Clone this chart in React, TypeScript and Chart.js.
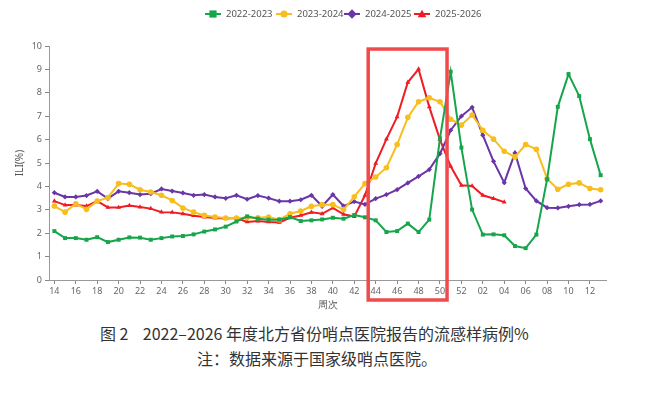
import React, { useEffect, useRef } from "react";
import { Chart, registerables } from "chart.js";

Chart.register(...registerables);

const weeks = [
  "14", "15", "16", "17", "18", "19", "20", "21", "22", "23", "24", "25", "26", "27", "28", "29", "30",
  "31", "32", "33", "34", "35", "36", "37", "38", "39", "40", "41", "42", "43", "44", "45", "46", "47",
  "48", "49", "50", "51", "52", "01", "02", "03", "04", "05", "06", "07", "08", "09", "10", "11", "12", "13",
];

const season2022 = [
  2.09, 1.79, 1.79, 1.72, 1.83, 1.62, 1.72, 1.82, 1.81, 1.72, 1.79, 1.86, 1.88, 1.95, 2.07, 2.16, 2.28,
  2.5, 2.72, 2.62, 2.58, 2.58, 2.69, 2.52, 2.55, 2.59, 2.66, 2.62, 2.78, 2.68, 2.55, 2.05, 2.09, 2.41,
  2.05, 2.58, 6.05, 8.9, 5.66, 3.01, 1.94, 1.95, 1.91, 1.45, 1.36, 1.94, 4.3, 7.4, 8.8, 7.86, 6.02, 4.48,
];

const season2023 = [
  3.16, 2.9, 3.26, 3.02, 3.37, 3.52, 4.12, 4.09, 3.86, 3.76, 3.62, 3.4, 3.08, 2.9, 2.76, 2.69, 2.65,
  2.65, 2.66, 2.66, 2.69, 2.58, 2.83, 2.95, 3.15, 3.22, 3.22, 3.01, 3.56, 4.12, 4.4, 4.8, 5.79, 6.95,
  7.62, 7.79, 7.62, 6.87, 6.62, 7.05, 6.4, 6.02, 5.5, 5.26, 5.79, 5.59, 4.33, 3.88, 4.09, 4.15, 3.91, 3.86,
];

const season2024 = [
  3.73, 3.55, 3.55, 3.61, 3.79, 3.48, 3.79, 3.73, 3.65, 3.69, 3.89, 3.8, 3.72, 3.62, 3.65, 3.55, 3.49,
  3.62, 3.45, 3.61, 3.5, 3.37, 3.37, 3.43, 3.62, 3.15, 3.65, 3.16, 3.35, 3.23, 3.48, 3.65, 3.86, 4.15,
  4.43, 4.72, 5.4, 6.4, 7.0, 7.38, 6.19, 5.07, 4.16, 5.43, 3.91, 3.38, 3.09, 3.08, 3.15, 3.22, 3.23, 3.38,
];

const season2025 = [
  3.37, 3.2, 3.2, 3.16, 3.37, 3.1, 3.1, 3.18, 3.12, 3.05, 2.9, 2.89, 2.83, 2.75, 2.69, 2.65, 2.63,
  2.65, 2.48, 2.52, 2.48, 2.46, 2.66, 2.76, 2.89, 2.83, 3.08, 2.81, 2.71, 3.62, 4.98, 6.02, 6.97, 8.45,
  9.01, 7.4, 6.0, 4.86, 4.05, 4.02, 3.62, 3.48, 3.33, null, null, null, null, null, null, null, null, null,
];

const seriesNames = ["2022-2023", "2023-2024", "2024-2025", "2025-2026"];
const seriesColors = ["#16a54b", "#f7be1e", "#6a35a6", "#ee1d24"];
const seriesPoints = ["rect", "circle", "rectRot", "triangle"];
const seriesRadius = [2.8, 2.8, 2.6, 2.8];

const yTicks = [0, 1, 2, 3, 4, 5, 6, 7, 8, 9, 10];
const highlightFrom = "44";
const highlightTo = "50";

const FONT = "'Noto Sans', 'Open Sans', sans-serif";

function drawMarker(ctx: CanvasRenderingContext2D, style: string, x: number, y: number, r: number) {
  ctx.beginPath();
  if (style === "rect") {
    ctx.rect(x - r, y - r, 2 * r, 2 * r);
  } else if (style === "circle") {
    ctx.arc(x, y, r, 0, Math.PI * 2);
  } else if (style === "rectRot") {
    ctx.moveTo(x, y - r * 1.3);
    ctx.lineTo(x + r * 1.3, y);
    ctx.lineTo(x, y + r * 1.3);
    ctx.lineTo(x - r * 1.3, y);
    ctx.closePath();
  } else {
    ctx.moveTo(x, y - r * 1.2);
    ctx.lineTo(x + r * 1.2, y + r * 0.9);
    ctx.lineTo(x - r * 1.2, y + r * 0.9);
    ctx.closePath();
  }
  ctx.fill();
}

const overlayPlugin = {
  id: "overlay",
  afterDatasetsDraw(chart: any) {
    const ctx = chart.ctx as CanvasRenderingContext2D;
    const xs = chart.scales.x;
    const ys = chart.scales.y;
    const area = chart.chartArea;
    const step = xs.getPixelForValue(1) - xs.getPixelForValue(0);
    const i0 = weeks.indexOf(highlightFrom);
    const i1 = weeks.indexOf(highlightTo);
    const left = xs.getPixelForValue(i0) - step * 0.7;
    const right = xs.getPixelForValue(i1) + step * 0.66;
    const top = ys.getPixelForValue(9.87);
    const bottom = area.bottom + 20;
    ctx.save();
    ctx.strokeStyle = "#f04a4c";
    ctx.lineWidth = 3.5;
    ctx.strokeRect(left, top, right - left, bottom - top);
    ctx.restore();
  },
  afterDraw(chart: any) {
    const ctx = chart.ctx as CanvasRenderingContext2D;
    const area = chart.chartArea;
    ctx.save();
    const legendX = [213, 284, 352, 422];
    const ly = 14;
    ctx.font = `9.5px ${FONT}`;
    ctx.textBaseline = "middle";
    ctx.textAlign = "left";
    seriesNames.forEach((name, i) => {
      const mx = legendX[i];
      ctx.strokeStyle = seriesColors[i];
      ctx.fillStyle = seriesColors[i];
      ctx.lineWidth = 2;
      ctx.beginPath();
      ctx.moveTo(mx - 8, ly);
      ctx.lineTo(mx + 8, ly);
      ctx.stroke();
      drawMarker(ctx, seriesPoints[i], mx, ly, 3.6);
      ctx.fillStyle = "#555";
      ctx.fillText(name, mx + 13, ly + 0.5);
    });
    ctx.fillStyle = "#555";
    ctx.font = `10px ${FONT}`;
    ctx.textAlign = "center";
    ctx.fillText("周次", (area.left + area.right) / 2, 305);
    ctx.translate(20, (area.top + area.bottom) / 2);
    ctx.rotate(-Math.PI / 2);
    ctx.fillText("ILI(%)", 0, 0);
    ctx.restore();
  },
};

export default function App() {
  const canvasRef = useRef<HTMLCanvasElement | null>(null);

  useEffect(() => {
    if (!canvasRef.current) return;
    const datasets = [season2022, season2023, season2024, season2025].map((data, i) => ({
      label: seriesNames[i],
      data,
      borderColor: seriesColors[i],
      backgroundColor: seriesColors[i],
      pointBackgroundColor: seriesColors[i],
      pointBorderColor: seriesColors[i],
      pointStyle: seriesPoints[i] as any,
      pointRadius: seriesRadius[i],
      pointBorderWidth: 0,
      borderWidth: 2,
      tension: 0,
      spanGaps: false,
      fill: false,
    }));
    const chart = new Chart(canvasRef.current, {
      type: "line",
      data: { labels: weeks, datasets },
      options: {
        animation: false,
        responsive: false,
        maintainAspectRatio: false,
        devicePixelRatio: 1,
        layout: { padding: { top: 46, left: 0, right: 41, bottom: 0 } },
        plugins: {
          legend: { display: false },
          tooltip: { enabled: false },
        },
        scales: {
          x: {
            type: "category",
            offset: true,
            afterFit: (scale: any) => {
              scale.height = 35;
            },
            afterBuildTicks: (scale: any) => {
              scale.ticks = scale.ticks.filter((t: any) => t.value % 2 === 0);
            },
            grid: {
              display: true,
              drawOnChartArea: false,
              drawTicks: true,
              tickLength: 4,
              tickColor: "#888",
              offset: false,
            },
            border: { display: true, color: "#999", width: 1 },
            ticks: {
              autoSkip: false,
              maxRotation: 0,
              padding: 2,
              color: "#666",
              font: { family: FONT, size: 9 },
            },
          },
          y: {
            min: 0,
            max: 10,
            afterFit: (scale: any) => {
              scale.width = 49;
            },
            afterBuildTicks: (scale: any) => {
              scale.ticks = yTicks.map((v) => ({ value: v }));
            },
            grid: {
              display: true,
              drawOnChartArea: false,
              drawTicks: true,
              tickLength: 4,
              tickColor: "#888",
            },
            border: { display: true, color: "#999", width: 1 },
            ticks: {
              stepSize: 1,
              padding: 3,
              color: "#666",
              font: { family: FONT, size: 9 },
            },
          },
        },
      },
      plugins: [overlayPlugin],
    });
    return () => chart.destroy();
  }, []);

  const captionStyle: React.CSSProperties = {
    position: "absolute",
    whiteSpace: "pre",
    fontFamily: "'Noto Sans CJK SC', sans-serif",
    fontSize: "16px",
    fontWeight: 400,
    color: "#333",
    lineHeight: "20px",
  };

  return (
    <div style={{ position: "absolute", left: 0, top: 0, width: 647, height: 395, background: "#fff", overflow: "hidden" }}>
      <canvas ref={canvasRef} width={647} height={315} style={{ position: "absolute", left: 0, top: 0, width: 647, height: 315 }} />
      <div style={{ ...captionStyle, left: 100, top: 323 }}>{"图 2    2022–2026 年度北方省份哨点医院报告的流感样病例%"}</div>
      <div style={{ ...captionStyle, left: 197, top: 348 }}>{"注：数据来源于国家级哨点医院。"}</div>
    </div>
  );
}
